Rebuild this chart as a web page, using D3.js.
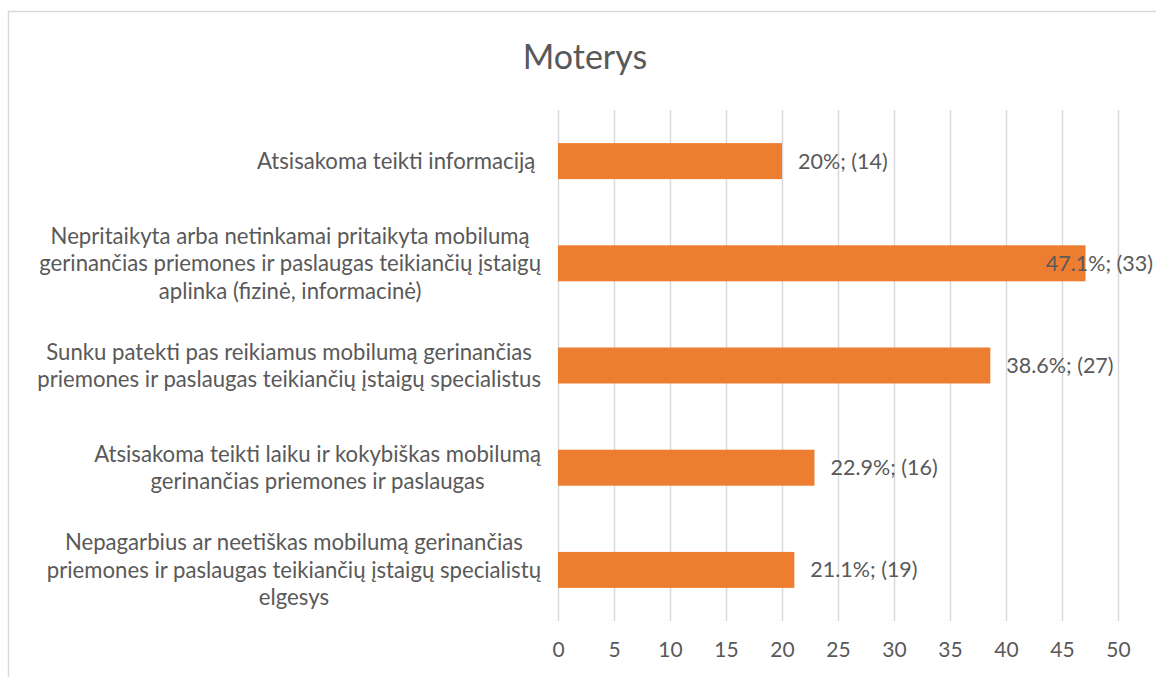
<!DOCTYPE html>
<html>
<head>
<meta charset="utf-8">
<script src="https://cdn.jsdelivr.net/npm/d3@7.9.0/dist/d3.min.js"></script>
<style>
  body { margin: 0; background: #fff; }
  svg { display: block; font-family: Lato, "Open Sans", sans-serif; }
  .gridlines line { stroke: #d9d9d9; stroke-width: 1.5; }
  .gridlines .domain { display: none; }
  .x-axis .domain, .x-axis line { display: none; }
  .x-axis text { fill: #595959; font-size: 21px; font-family: Lato, sans-serif; }
  .cat text { white-space: pre; }
</style>
</head>
<body>
<div id="chart"></div>
<script>
const title = 'Moterys';
const categories = [
  ['Atsisakoma teikti informaciją '],
  ['Nepritaikyta arba netinkamai pritaikyta mobilumą',
   'gerinančias priemones ir paslaugas teikiančių įstaigų',
   'aplinka (fizinė, informacinė)'],
  ['Sunku patekti pas reikiamus mobilumą gerinančias',
   'priemones ir paslaugas teikiančių įstaigų specialistus'],
  ['Atsisakoma teikti laiku ir kokybiškas mobilumą',
   'gerinančias priemones ir paslaugas'],
  ['Nepagarbius ar neetiškas mobilumą gerinančias',
   'priemones ir paslaugas teikiančių įstaigų specialistų',
   'elgesys'],
];
const percents = [20, 47.1, 38.6, 22.9, 21.1];
const counts = [14, 33, 27, 16, 19];
const xTicks = [0, 5, 10, 15, 20, 25, 30, 35, 40, 45, 50];

const width = 1156;
const height = 677;
const area = { left: 558, right: 1118, top: 110, bottom: 621 };
const textColor = '#595959';

const rows = categories.map((lines, i) => ({
  id: i,
  lines,
  value: percents[i],
  label: `${percents[i]}%; (${counts[i]})`,
}));

const svg = d3.select('#chart')
  .append('svg')
  .attr('width', width)
  .attr('height', height);

// chart frame, runs off the right and bottom edge like the screenshot
svg.append('rect')
  .attr('x', 8.5).attr('y', 11.5)
  .attr('width', width + 20).attr('height', height + 20)
  .attr('fill', 'none')
  .attr('stroke', '#d9d9d9')
  .attr('stroke-width', 1.5);

svg.append('text')
  .attr('x', 585).attr('y', 69)
  .attr('text-anchor', 'middle')
  .attr('fill', textColor)
  .style('font-size', '34px')
  .text(title);

const xScale = d3.scaleLinear()
  .domain([0, 50])
  .range([area.left, area.right]);

const yScale = d3.scaleBand()
  .domain(rows.map(d => d.id))
  .range([area.top, area.bottom])
  .paddingInner(0.648)
  .paddingOuter(0.324);

svg.append('g')
  .attr('class', 'gridlines')
  .attr('transform', `translate(0, ${area.bottom})`)
  .call(d3.axisBottom(xScale).tickValues(xTicks).tickFormat('').tickSize(-(area.bottom - area.top)));

svg.append('g')
  .attr('class', 'x-axis')
  .attr('transform', `translate(0, ${area.bottom + 18})`)
  .call(d3.axisBottom(xScale).tickValues(xTicks).tickSize(0).tickFormat(d3.format('d')));

svg.append('g')
  .selectAll('rect')
  .data(rows)
  .join('rect')
  .attr('x', xScale(0))
  .attr('y', d => yScale(d.id))
  .attr('width', d => xScale(d.value) - xScale(0))
  .attr('height', yScale.bandwidth())
  .attr('fill', '#ed7d31');

// value labels, pulled back inside the frame when they would overflow
const valueLabels = svg.append('g')
  .selectAll('text')
  .data(rows)
  .join('text')
  .attr('y', d => yScale(d.id) + yScale.bandwidth() / 2)
  .attr('dy', '0.35em')
  .attr('fill', textColor)
  .style('font-size', '21.5px')
  .text(d => d.label);

valueLabels.attr('x', function(d) {
  const w = this.getComputedTextLength();
  const x = xScale(d.value) + 16;
  return Math.min(x, 1153 - w);
});

// category labels: block right-aligned to the axis, each line centred in it
const lineHeight = 27.5;
const labelRight = 541;
const widestLine = 504; // widest wrapped line in the screenshot

const catGroups = svg.append('g')
  .attr('class', 'cat')
  .selectAll('text')
  .data(rows)
  .join('text')
  .attr('fill', textColor)
  .attr('text-anchor', 'middle')
  .style('font-size', '20px');

catGroups.each(function(d) {
  const t = d3.select(this);
  const cy = yScale(d.id) + yScale.bandwidth() / 2;
  const y0 = cy - (d.lines.length - 1) * lineHeight / 2;
  t.selectAll('tspan')
    .data(d.lines)
    .join('tspan')
    .attr('dy', '0.35em')
    .attr('y', (l, i) => y0 + i * lineHeight)
    .text(l => l);
});

// fit the font so the longest line matches the reference width
let longest = 0;
catGroups.selectAll('tspan').each(function() {
  longest = Math.max(longest, this.getComputedTextLength());
});
const catFont = 20 * widestLine / longest;
catGroups.style('font-size', catFont + 'px');

catGroups.each(function() {
  const t = d3.select(this);
  let maxW = 0;
  t.selectAll('tspan').each(function() {
    maxW = Math.max(maxW, this.getComputedTextLength());
  });
  t.selectAll('tspan').attr('x', labelRight - maxW / 2);
});
</script>
</body>
</html>
